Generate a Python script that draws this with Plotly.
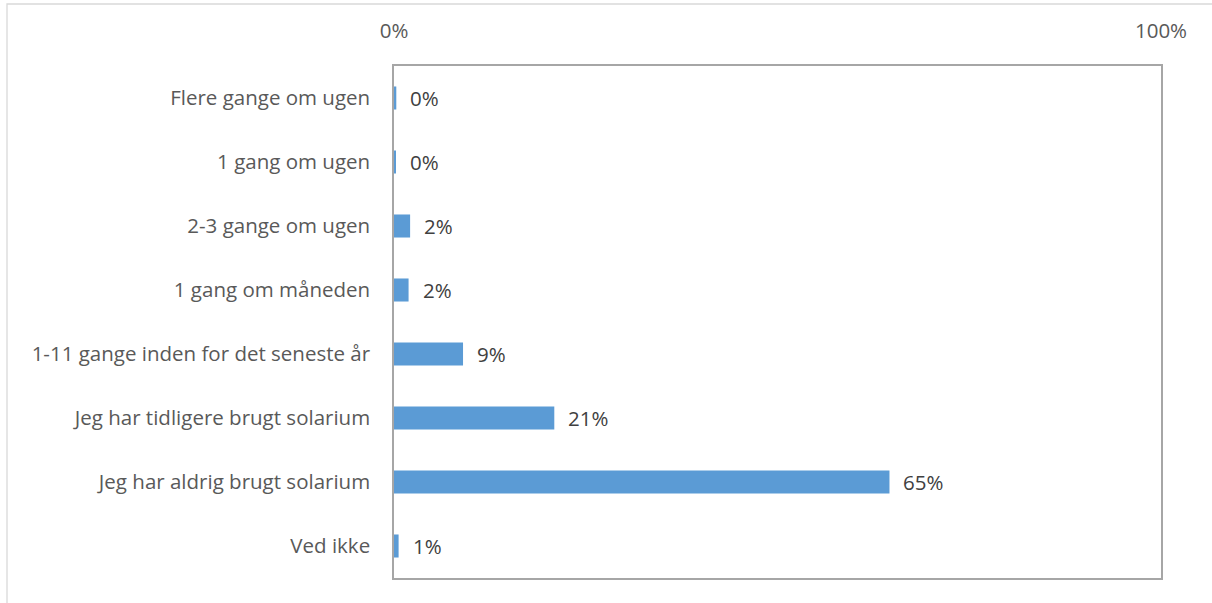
import plotly.graph_objects as go

categories = [
    "Flere gange om ugen",
    "1 gang om ugen",
    "2-3 gange om ugen",
    "1 gang om måneden",
    "1-11 gange inden for det seneste år",
    "Jeg har tidligere brugt solarium",
    "Jeg har aldrig brugt solarium",
    "Ved ikke",
]
values = [0.3, 0.2, 2.1, 1.9, 9.0, 20.9, 64.6, 0.6]
labels = ["0%", "0%", "2%", "2%", "9%", "21%", "65%", "1%"]
tick_vals = [0, 100]
tick_text = ["0%", "100%"]

W, H = 1212, 603
ML, MR, MT, MB = 394, 51, 66, 25
PW, PH = W - ML - MR, H - MT - MB
FS = 20.5

fig = go.Figure()
fig.add_trace(go.Bar(
    y=categories, x=values, orientation="h",
    marker=dict(color="#5B9BD5", line=dict(width=0)),
    width=0.36, hoverinfo="skip",
))

for c, v, t in zip(categories, values, labels):
    fig.add_annotation(x=v, y=c, text=t, showarrow=False, xanchor="left",
                       xshift=12, font=dict(family="Open Sans", size=FS, color="#404040"))

def px_x(p):
    return (p - ML) / PW

def px_y(p):
    return (H - MB - p) / PH

fig.add_shape(type="rect", xref="paper", yref="paper",
              x0=px_x(7), x1=px_x(1230), y0=px_y(620), y1=px_y(4),
              line=dict(color="#D9D9D9", width=1.3), layer="below")

fig.update_layout(
    width=W, height=H,
    margin=dict(l=ML, r=MR, t=MT, b=MB),
    paper_bgcolor="white", plot_bgcolor="white",
    showlegend=False,
    font=dict(family="Open Sans", size=FS, color="#595959"),
    xaxis=dict(range=[0, 100], side="top", tickvals=tick_vals, ticktext=tick_text,
               showgrid=False, zeroline=False, showline=True, mirror=True,
               linecolor="#A6A6A6", linewidth=1.5, ticks="", ticklabelstandoff=18,
               tickfont=dict(size=FS, color="#595959"), fixedrange=True),
    yaxis=dict(categoryorder="array", categoryarray=categories, autorange="reversed",
               showgrid=False, zeroline=False, showline=True, mirror=True,
               linecolor="#A6A6A6", linewidth=1.5, ticks="", ticklabelstandoff=18,
               tickfont=dict(size=FS, color="#595959"), fixedrange=True),
)

fig.write_html("out.html", config={"displayModeBar": False},
               post_script="document.body.style.margin='0';")
